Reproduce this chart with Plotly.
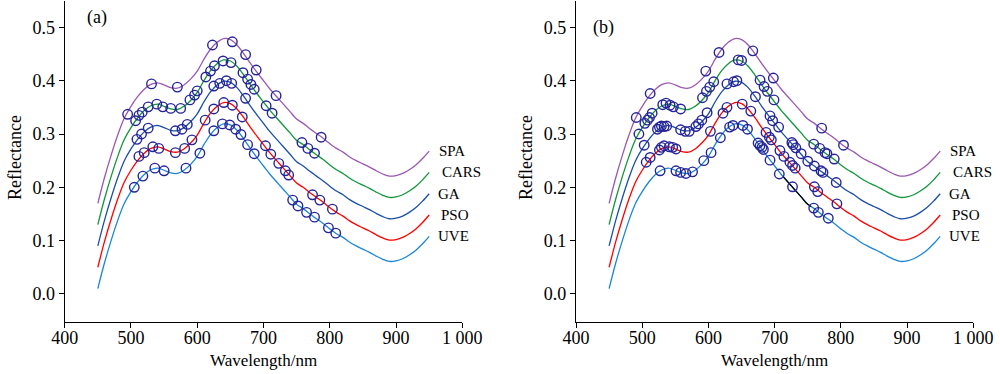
import plotly.graph_objects as go

# ---------------- data ----------------
wavelength = [450, 460, 470, 480, 490, 500, 510, 520, 530, 540, 550, 560, 570, 580, 590,
              600, 610, 620, 630, 640, 650, 660, 670, 680, 690, 700, 710, 720, 730, 740,
              750, 760, 770, 780, 790, 800, 810, 820, 830, 840, 850, 860, 870, 880, 890,
              900, 910, 920, 930, 940, 950]

uve = [.010, .058, .100, .138, .170, .192, .210, .224, .233, .236, .232, .227, .226, .232, .243,
       .258, .280, .299, .312, .319, .317, .307, .291, .273, .256, .240, .224, .210, .196, .182,
       .168, .160, .150, .141, .132, .122, .113, .106, .097, .090, .084, .078, .071, .065, .061,
       .062, .066, .073, .082, .094, .108]
pso = [.050, .098, .140, .178, .210, .232, .250, .264, .273, .276, .272, .267, .266, .272, .283,
       .298, .320, .339, .352, .359, .357, .347, .331, .313, .296, .280, .264, .250, .236, .222,
       .208, .200, .190, .181, .172, .162, .153, .146, .137, .130, .124, .118, .111, .105, .101,
       .102, .106, .113, .122, .134, .148]
ga = [.090, .138, .180, .218, .250, .272, .290, .304, .313, .316, .312, .307, .306, .312, .323,
      .338, .360, .379, .392, .399, .397, .387, .371, .353, .336, .320, .304, .290, .276, .262,
      .248, .240, .230, .221, .212, .202, .193, .186, .177, .170, .164, .158, .151, .145, .141,
      .142, .146, .153, .162, .174, .188]
cars = [.130, .178, .220, .258, .290, .312, .330, .344, .353, .356, .352, .347, .346, .352, .363,
        .378, .400, .419, .432, .439, .437, .427, .411, .393, .376, .360, .344, .330, .316, .302,
        .288, .280, .270, .261, .252, .242, .233, .226, .217, .210, .204, .198, .191, .185, .181,
        .182, .186, .193, .202, .214, .228]
spa = [.170, .218, .260, .298, .330, .352, .370, .384, .393, .396, .392, .387, .386, .392, .403,
       .418, .440, .459, .472, .479, .477, .467, .451, .433, .416, .400, .384, .370, .356, .342,
       .328, .320, .310, .301, .292, .282, .273, .266, .257, .250, .244, .238, .231, .225, .221,
       .222, .226, .233, .242, .254, .268]

series_names = ["SPA", "CARS", "GA", "PSO", "UVE"]
series_colors = ["#9a58b0", "#12963a", "#1a4fa6", "#ff0000", "#1a86d6"]
label_x = [962, 967, 961, 965, 961]

# black segment on UVE in panel (b)
black_x = [713, 720, 730, 740, 750, 755]
black_y = [0.220, 0.210, 0.196, 0.182, 0.168, 0.164]

# selected wavelengths, panel (a)
spa_a_x = [495, 531, 570, 623, 653, 673, 689, 719, 787]
spa_a_y = [0.337, 0.394, 0.388, 0.467, 0.473, 0.449, 0.420, 0.372, 0.294]
cars_a_x = [507, 512, 517, 526, 539, 548, 560, 575, 589, 596, 600, 613, 620, 626, 639, 651,
            669, 676, 681, 686, 704, 713, 758, 767, 777]
cars_a_y = [0.325, 0.335, 0.341, 0.351, 0.356, 0.351, 0.348, 0.348, 0.364, 0.373, 0.381, 0.407,
            0.418, 0.428, 0.437, 0.434, 0.415, 0.403, 0.393, 0.384, 0.353, 0.339, 0.284, 0.273, 0.264]
ga_a_x = [509, 516, 526, 567, 577, 585, 625, 634, 644, 652, 673]
ga_a_y = [0.290, 0.300, 0.311, 0.306, 0.309, 0.318, 0.390, 0.395, 0.400, 0.395, 0.367]
pso_a_x = [512, 520, 533, 542, 567, 581, 592, 612, 625, 640, 653, 668, 703, 711, 723, 733, 738,
           774, 785, 804]
pso_a_y = [0.258, 0.265, 0.276, 0.273, 0.265, 0.273, 0.289, 0.326, 0.347, 0.359, 0.354, 0.332,
           0.278, 0.262, 0.245, 0.231, 0.223, 0.186, 0.176, 0.159]
uve_a_x = [505, 518, 536, 550, 583, 604, 625, 638, 649, 658, 666, 676, 686, 744, 752, 765, 777,
           798, 809]
uve_a_y = [0.200, 0.221, 0.236, 0.231, 0.236, 0.264, 0.306, 0.319, 0.317, 0.309, 0.299, 0.280,
           0.263, 0.176, 0.165, 0.153, 0.144, 0.124, 0.114]

# selected wavelengths, panel (b)
spa_b_x = [491, 512, 596, 616, 667, 698, 771, 804]
spa_b_y = [0.331, 0.376, 0.418, 0.453, 0.456, 0.405, 0.311, 0.279]
cars_b_x = [495, 504, 508, 511, 515, 531, 536, 542, 547, 558, 591, 597, 602, 608, 645, 650,
            678, 684, 689, 699, 759, 768, 776, 779, 790]
cars_b_y = [0.300, 0.320, 0.326, 0.331, 0.339, 0.355, 0.358, 0.354, 0.351, 0.347, 0.368, 0.380,
            0.388, 0.398, 0.439, 0.438, 0.401, 0.389, 0.380, 0.364, 0.281, 0.273, 0.265, 0.263, 0.253]
ga_b_x = [503, 523, 526, 529, 533, 537, 558, 565, 571, 581, 585, 590, 598, 628, 638, 643, 671,
          693, 697, 706, 726, 728, 732, 740, 750, 760, 770, 773, 793]
ga_b_y = [0.279, 0.309, 0.313, 0.315, 0.314, 0.315, 0.308, 0.305, 0.305, 0.314, 0.319, 0.326,
          0.340, 0.394, 0.398, 0.400, 0.370, 0.334, 0.325, 0.313, 0.284, 0.280, 0.274, 0.263,
          0.249, 0.240, 0.231, 0.228, 0.209]
pso_b_x = [506, 512, 526, 529, 533, 541, 546, 551, 603, 622, 628, 651, 664, 687, 692, 695, 708,
           714, 723, 727, 731, 760, 765, 794]
pso_b_y = [0.247, 0.256, 0.270, 0.275, 0.278, 0.276, 0.275, 0.272, 0.305, 0.339, 0.350, 0.356,
           0.343, 0.303, 0.294, 0.289, 0.269, 0.258, 0.247, 0.241, 0.236, 0.201, 0.192, 0.169]
uve_b_x = [527, 551, 558, 566, 576, 593, 604, 618, 632, 637, 652, 659, 675, 678, 681, 683, 693,
           707, 727, 759, 766, 781]
uve_b_y = [0.231, 0.231, 0.228, 0.226, 0.229, 0.250, 0.265, 0.293, 0.313, 0.316, 0.316, 0.309,
           0.283, 0.278, 0.275, 0.271, 0.251, 0.225, 0.201, 0.161, 0.153, 0.142]

x_ticks = [400, 500, 600, 700, 800, 900, 1000]
x_tick_text = ["400", "500", "600", "700", "800", "900", "1 000"]
y_ticks = [0.0, 0.1, 0.2, 0.3, 0.4, 0.5]
y_tick_text = ["0.0", "0.1", "0.2", "0.3", "0.4", "0.5"]

# ---------------- figure ----------------
FONT = "Liberation Serif"
MARKER_COLOR = "#25259a"

curves = [spa, cars, ga, pso, uve]
marks_a = [(spa_a_x, spa_a_y), (cars_a_x, cars_a_y), (ga_a_x, ga_a_y), (pso_a_x, pso_a_y), (uve_a_x, uve_a_y)]
marks_b = [(spa_b_x, spa_b_y), (cars_b_x, cars_b_y), (ga_b_x, ga_b_y), (pso_b_x, pso_b_y), (uve_b_x, uve_b_y)]

fig = go.Figure()

for panel, (xa, ya, marks) in enumerate([("x", "y", marks_a), ("x2", "y2", marks_b)]):
    for name, col, vals in zip(series_names, series_colors, curves):
        fig.add_trace(go.Scatter(x=wavelength, y=vals, mode="lines", xaxis=xa, yaxis=ya,
                                 line=dict(color=col, width=1.3, shape="spline", smoothing=1.0),
                                 showlegend=False, hoverinfo="skip"))
    if panel == 1:
        fig.add_trace(go.Scatter(x=black_x, y=black_y, mode="lines", xaxis=xa, yaxis=ya,
                                 line=dict(color="black", width=1.3, shape="spline"),
                                 showlegend=False, hoverinfo="skip"))
    for mx, my in marks:
        fig.add_trace(go.Scatter(x=mx, y=my, mode="markers", xaxis=xa, yaxis=ya,
                                 marker=dict(symbol="circle-open", size=9.5, color=MARKER_COLOR,
                                             line=dict(width=1.4, color=MARKER_COLOR)),
                                 showlegend=False, hoverinfo="skip"))
    for name, vals, lx in zip(series_names, curves, label_x):
        fig.add_annotation(x=lx, y=vals[-1], xref=xa, yref=ya, text=name, showarrow=False,
                           xanchor="left", yanchor="middle",
                           font=dict(family=FONT, size=15, color="black"))

axis_common = dict(showgrid=False, zeroline=False, showline=True, linecolor="black", linewidth=1.3,
                   ticks="outside", ticklen=5, tickwidth=1.3, tickcolor="black", automargin=False,
                   tickfont=dict(family=FONT, size=18, color="black"), mirror=False)

fig.update_layout(
    width=1000, height=374, margin=dict(l=0, r=0, t=0, b=0, autoexpand=False),
    paper_bgcolor="white", plot_bgcolor="white",
    font=dict(family=FONT),
    xaxis=dict(domain=[0.0647, 0.4623], range=[400, 1000], tickvals=x_ticks, ticktext=x_tick_text,
               anchor="y", ticklabelstandoff=-5, **axis_common),
    yaxis=dict(domain=[0.14, 0.998], range=[-0.052, 0.55], tickvals=y_ticks, ticktext=y_tick_text,
               anchor="x", **axis_common),
    xaxis2=dict(domain=[0.576, 0.9733], range=[400, 1000], tickvals=x_ticks, ticktext=x_tick_text,
                anchor="y2", ticklabelstandoff=-5, **axis_common),
    yaxis2=dict(domain=[0.14, 0.998], range=[-0.052, 0.55], tickvals=y_ticks, ticktext=y_tick_text,
                anchor="x2", **axis_common),
)

# axis titles and panel tags
for xc, yc_x in [(263, 15), (774.6, 526)]:
    fig.add_annotation(x=xc / 1000, y=1 - 360 / 374, xref="paper", yref="paper",
                       text="Wavelength/nm", showarrow=False, xanchor="center", yanchor="middle",
                       font=dict(family=FONT, size=17, color="black"))
    fig.add_annotation(x=yc_x / 1000, y=1 - 158 / 374, xref="paper", yref="paper",
                       text="Reflectance", showarrow=False, textangle=-90,
                       xanchor="center", yanchor="middle",
                       font=dict(family=FONT, size=18, color="black"))

fig.add_annotation(x=97 / 1000, y=1 - 18 / 374, xref="paper", yref="paper", text="(a)",
                   showarrow=False, xanchor="center", yanchor="middle",
                   font=dict(family=FONT, size=18, color="black"))
fig.add_annotation(x=603 / 1000, y=1 - 28 / 374, xref="paper", yref="paper", text="(b)",
                   showarrow=False, xanchor="center", yanchor="middle",
                   font=dict(family=FONT, size=18, color="black"))

fig.write_html("out.html", config={"displayModeBar": False},
               post_script="document.body.style.margin='0px';document.body.style.overflow='hidden';")
